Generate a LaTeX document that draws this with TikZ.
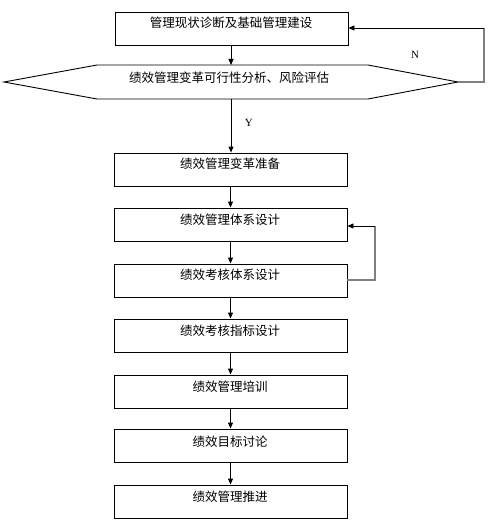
\documentclass[tikz,border=0pt]{standalone}
\usepackage{fontspec}
\setmainfont{Liberation Serif}
\newfontfamily\cjk{Noto Sans CJK SC}
\usetikzlibrary{arrows.meta}
\begin{document}
\begin{tikzpicture}[x=1pt,y=-1pt,
  box/.style={draw,line width=0.9pt,minimum width=233pt,minimum height=33pt,inner sep=0pt},
  lbl/.style={font=\cjk\fontsize{12.5}{14}\selectfont,inner sep=0pt},
  arr/.style={line width=0.9pt,-{Triangle[length=6pt,width=5pt]}},
  garr/.style={line width=1.5pt,draw=gray}]
\useasboundingbox (0,0) rectangle (490,527);
\fill[white] (0,0) rectangle (490,527);
% boxes
\node[box] (b1) at (231.5,28.5) {};
\node[lbl] at (231,23) {管理现状诊断及基础管理建设};
\draw[line width=0.9pt] (4,82) -- (97,65) -- (368,65) -- (458,82) -- (368,99) -- (97,99) -- cycle;
\coordinate (hl) at (4,82);
\coordinate (hr) at (458,82);
\coordinate (ht) at (231,65);
\coordinate (hb) at (231,99);
\node[lbl] (h) at (229,78) {绩效管理变革可行性分析、风险评估};
\node[box] (b2) at (230.5,169.5) {};
\node[lbl] at (230,164) {绩效管理变革准备};
\node[box] (b3) at (230.5,224.5) {};
\node[lbl] at (230,219.5) {绩效管理体系设计};
\node[box] (b4) at (230.5,280.5) {};
\node[lbl] at (230,275) {绩效考核体系设计};
\node[box] (b5) at (230.5,335.5) {};
\node[lbl] at (230,331) {绩效考核指标设计};
\node[box] (b6) at (230.5,391.5) {};
\node[lbl] at (230,387) {绩效管理培训};
\node[box] (b7) at (230.5,445.5) {};
\node[lbl] at (230,442) {绩效目标讨论};
\node[box] (b8) at (230.5,501.5) {};
\node[lbl] at (230,497) {绩效管理推进};
% arrows
\draw[arr] (b1.south -| ht) -- (ht);
\draw[arr] (hb) -- (b2.north -| hb) node[pos=0.45,right=10pt,font=\fontsize{11}{12}\selectfont] {Y};
\draw[arr] (b2) ++(0,16.5) coordinate (a2) -- (b3.north -| a2);
\draw[arr] (b3.south) -- (b4.north);
\draw[arr] (b4.south) -- (b5.north);
\draw[arr] (b5.south) -- (b6.north);
\draw[arr] (b6.south) -- (b7.north);
\draw[arr] (b7.south) -- (b8.north);
% N loop
\coordinate (n1) at (484,82);
\coordinate (n2) at (484,28);
\draw[garr] (hr) -- (n1) -- (n2);
\draw[arr] (n2) -- (n2 -| b1.east);
\node[font=\fontsize{11}{12}\selectfont] (N) at (415,55) {N};
% b4 -> b3 loop
\coordinate (l1) at (375,280);
\coordinate (l2) at (375,226);
\draw[garr] (l1 -| b4.east) -- (l1) -- (l2);
\draw[arr] (l2) -- (l2 -| b3.east);
\end{tikzpicture}
\end{document}
